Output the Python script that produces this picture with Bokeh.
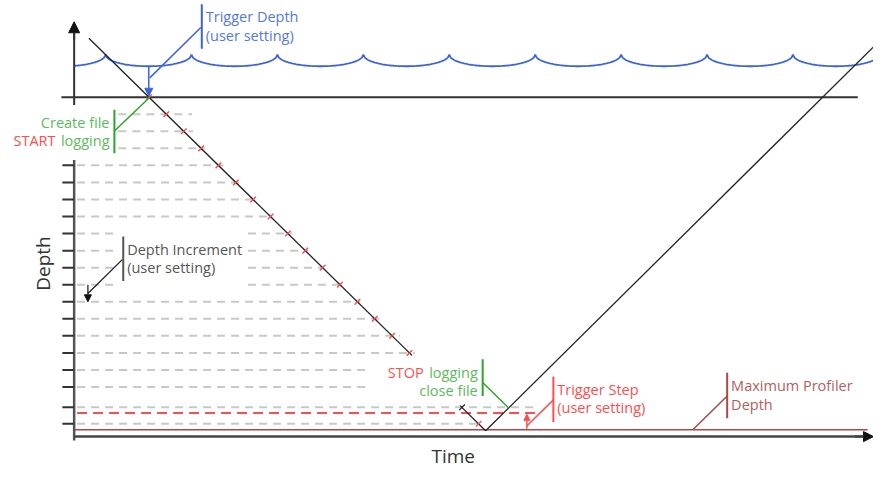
import math
import numpy as np
from bokeh.plotting import figure
from bokeh.models import Range1d, Arrow, NormalHead
from bokeh.core.properties import value
from bokeh.embed import file_html
from bokeh.resources import INLINE

FONT = "Open Sans"

# ---- diagram data (x = time units, y = depth units, depth grows downward) ----
surface_depth = 100
wave_base = 68
wave_crest = 56
wave_cusps = [19.5, 107, 194.5, 282, 369.5, 457, 544.5, 632, 719.5, 807, 894.5]

descent_x = [90, 419]
descent_y = [39, 367]
descent2_x = [468, 494]
descent2_y = [419, 445]
ascent_x = [494, 889]
ascent_y = [445, 48]

log_depths = [100, 117.6, 135.3, 152.9, 170.5, 188.2, 205.8, 223.4, 241.0,
              258.7, 276.3, 293.9, 311.6, 329.2, 346.8, 364.5]
late_marks_x = [470, 487]
late_marks_y = [420.7, 437.7]
late_marks_col = ["#222222", "#ff4d4d"]

grid_y = [117.6, 135.3, 152.9, 170.5, 188.2, 205.8, 223.4, 241.0, 258.7,
          276.3, 293.9, 311.6, 329.2, 346.8, 364.5, 382.1, 399.7, 420.7, 437.7]
grid_x0 = [120, 120, 120, 78, 78, 78, 78, 78, 78, 78, 78, 78, 78, 78, 78, 78, 78, 78, 78]
grid_x1 = [195, 196, 208, 227, 243, 260, 278, 297, 313, 329, 348, 366, 388, 407,
           422, 377, 377, 547, 487]
grid_gap = [(118, 252) if y in (241.0, 258.7, 276.3, 293.9) else None for y in grid_y]

tick_y = [170.5, 188.2, 205.8, 223.4, 241.0, 258.7, 276.3, 293.9, 311.6, 329.2,
          346.8, 364.5, 382.1, 399.7, 420.7, 437.7]

trigger_step_depth = 426.5
max_depth = 444
time_axis_depth = 451
axis_x = 75

BLUE = "#3b63dd"
BLUE_T = "#5478e2"
GREEN = "#2aa52a"
GREEN_T = "#5cbb5c"
RED = "#ff4d4d"
DRED = "#aa4747"
DRED_T = "#b35e5e"
GREY_T = "#555555"
FS = "14.5px"
TY = -5.0   # shift from a text's baseline to its visual centre

p = figure(width=873, height=468, x_range=Range1d(0, 889), y_range=Range1d(484, 0),
           output_backend="svg", toolbar_location=None,
           x_axis_type=None, y_axis_type=None, min_border=0)
p.outline_line_color = None
p.background_fill_color = "white"
p.grid.visible = False

# ---- dashed depth-increment lines ----
xs, ys = [], []
for y, x0, x1, g in zip(grid_y, grid_x0, grid_x1, grid_gap):
    if g is None:
        xs.append([x0, x1]); ys.append([y, y])
    else:
        xs.append([x0, g[0]]); ys.append([y, y])
        xs.append([g[1], x1]); ys.append([y, y])
p.multi_line(xs, ys, line_color="#c8c8c8", line_width=2, line_dash="8 6")

# trigger step (red dashed)
p.line([78, 547], [trigger_step_depth] * 2, line_color=RED, line_width=2, line_dash="10 6")

# max profiler depth
p.line([axis_x, 883], [max_depth] * 2, line_color=DRED, line_width=1.5)

# ---- axes ----
p.line([axis_x, axis_x], [108, 30], line_color="#333333", line_width=2)
p.add_layout(Arrow(end=NormalHead(size=11, fill_color="#111111", line_color="#111111"),
                   x_start=axis_x, y_start=40, x_end=axis_x, y_end=22,
                   line_color="#333333", line_width=2))
p.line([62, 873], [surface_depth] * 2, line_color="#333333", line_width=2)
p.line([axis_x, axis_x], [165, 455], line_color="#555555", line_width=2.5)
p.multi_line([[63, axis_x] for _ in tick_y], [[t, t] for t in tick_y],
             line_color="#333333", line_width=2)
p.line([axis_x, 880], [time_axis_depth] * 2, line_color="#444444", line_width=2.5)
p.add_layout(Arrow(end=NormalHead(size=10, fill_color="#111111", line_color="#111111"),
                   x_start=870, y_start=time_axis_depth, x_end=889, y_end=time_axis_depth,
                   line_color="#444444", line_width=2.5))

# ---- waves ----
wx, wy = [], []
for a, b in zip(wave_cusps[:-1], wave_cusps[1:]):
    t = np.linspace(-1, 1, 60)
    x = (a + b) / 2 + t * (b - a) / 2
    y = wave_crest + (wave_base - wave_crest) * np.sqrt(np.clip(1 - t ** 2, 0, 1))
    m = (x >= axis_x) & (x <= 889)
    wx.extend(x[m].tolist()); wy.extend(y[m].tolist())
p.line(wx, wy, line_color=BLUE, line_width=1.8)

# ---- profiler track ----
mark_x = np.interp(log_depths, descent_y, descent_x)
p.scatter(mark_x, log_depths, marker="x", size=7, line_color=RED, line_width=1.2, line_alpha=0.6)
p.line(descent_x, descent_y, line_color="#222222", line_width=1.3)
p.line(descent2_x, descent2_y, line_color="#222222", line_width=1.3)
p.line(ascent_x, ascent_y, line_color="#222222", line_width=1.3)
p.scatter(mark_x, log_depths, marker="dash", angle=math.pi / 4, size=8,
          line_color=RED, line_width=1.3)
p.scatter(late_marks_x, late_marks_y, marker="dash", angle=math.pi / 4, size=8,
          line_color=late_marks_col, line_width=1.3)

def txt(x, y, s, color, align="left", size=FS, angle=0.0, dy=TY):
    p.text(x=[x], y=[y + dy], text=[s], text_color=color, text_font=value(FONT),
           text_font_size=size, text_align=align, text_baseline="alphabetic", angle=angle)

def bar(x, y0, y1, color):
    p.line([x, x], [y0, y1], line_color=color, line_width=2)

# Trigger depth
bar(205, 4, 50, BLUE)
p.line([204, 152], [28, 80], line_color=BLUE, line_width=1.5)
p.add_layout(Arrow(end=NormalHead(size=8, fill_color=BLUE, line_color=BLUE),
                   x_start=151, y_start=wave_base, x_end=151, y_end=99,
                   line_color=BLUE, line_width=1.5))
txt(209, 22, "Trigger Depth", BLUE_T)
txt(209, 41, "(user setting)", BLUE_T)

# Create file / START logging
bar(116, 113, 158, GREEN)
p.line([116, 152], [135, 100], line_color=GREEN, line_width=1.5)
txt(111, 131, "Create file", GREEN_T, "right")
txt(111, 150, "logging", GREEN_T, "right")
txt(56, 150, "START", RED, "right")

# Depth increment
bar(125, 244, 290, "#555555")
p.line([124, 89], [268, 303], line_color="#222222", line_width=1.3)
p.add_layout(Arrow(end=NormalHead(size=7, fill_color="#111111", line_color="#111111"),
                   x_start=89, y_start=293.9, x_end=89, y_end=311.6,
                   line_color="#222222", line_width=1.3))
txt(129, 262, "Depth Increment", GREY_T)
txt(129, 281, "(user setting)", GREY_T)

# STOP logging / close file
bar(491, 371, 409, GREEN)
p.line([491, 517], [395, 421], line_color=GREEN, line_width=1.5)
txt(486, 389.5, "logging", GREEN_T, "right")
txt(431, 389.5, "STOP", RED, "right")
txt(486, 408.5, "close file", GREEN_T, "right")

# Trigger step
bar(563, 389, 436, RED)
p.line([563, 536], [413, 440], line_color=RED, line_width=1.5)
p.add_layout(Arrow(end=NormalHead(size=6, fill_color=RED, line_color=RED),
                   x_start=536, y_start=443, x_end=536, y_end=428,
                   line_color=RED, line_width=1.5))
txt(567, 407.5, "Trigger Step", RED)
txt(567, 426, "(user setting)", RED)

# Maximum profiler depth
bar(740, 385, 432, DRED)
p.line([740, 705], [409, max_depth], line_color=DRED, line_width=1.5)
txt(744, 403.5, "Maximum Profiler", DRED_T)
txt(744, 422.5, "Depth", DRED_T)

# axis titles
txt(461, 471.5, "Time", "#333333", "center", "19px", dy=0)
p.text(x=[43], y=[272], text=["Depth"], text_color="#333333", text_font=value(FONT),
       text_font_size="19px", text_align="center", text_baseline="alphabetic",
       angle=math.pi / 2)

open("out.html", "w").write(file_html(p, INLINE))
